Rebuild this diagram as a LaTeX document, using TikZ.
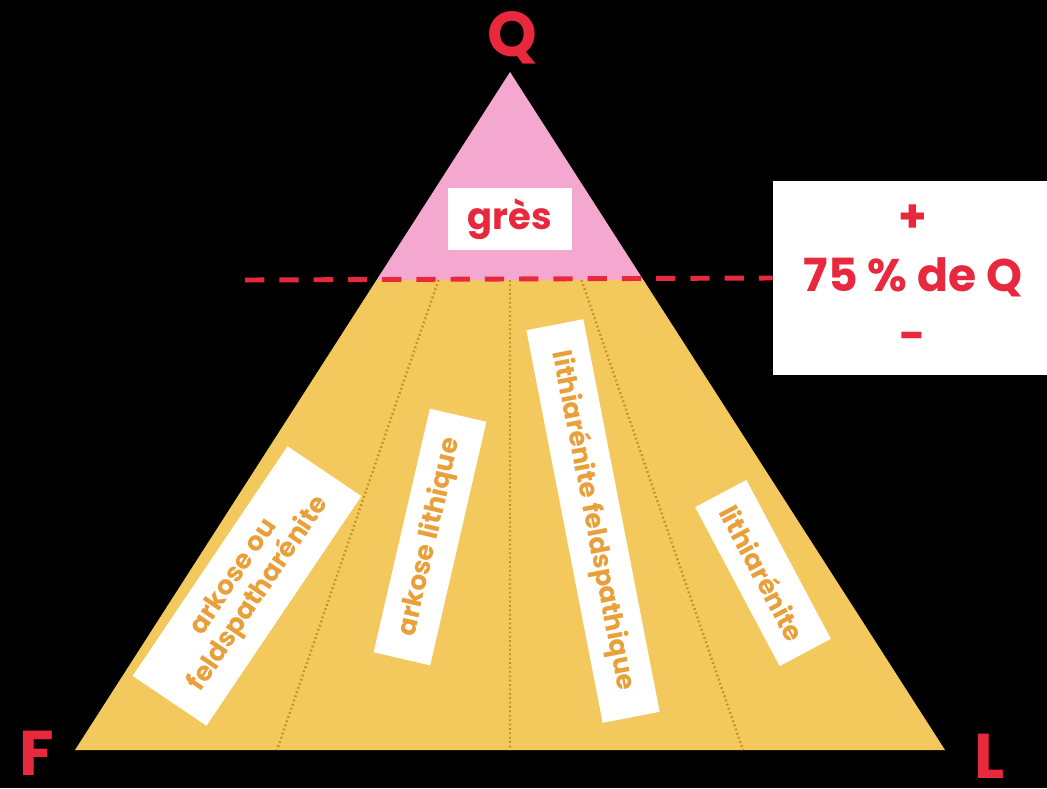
\documentclass[tikz,border=0pt]{standalone}
\usepackage{fontspec}
\setmainfont{Poppins}
\usetikzlibrary{calc}
\definecolor{quartzpink}{HTML}{F4A7CF}
\definecolor{sandyellow}{HTML}{F3C95E}
\definecolor{labelred}{HTML}{E8283C}
\definecolor{rockorange}{HTML}{E9A03A}
\definecolor{dotcolor}{HTML}{C99318}
\tikzset{
    x=0.02cm, y=-0.02cm, % work in pixels of the 1047x788 frame
    vertex/.style={ % corner letters Q, F, L
        text=labelred, inner sep=0pt,
        font=\fontsize{36}{36}\selectfont\bfseries
    },
    rockbox/.style={ % white tags with the rock names
        fill=white, text=rockorange, inner sep=2pt,
        align=center, minimum height=1.16cm,
        font=\fontsize{15}{17}\selectfont\bfseries
    },
    divider/.style={dotcolor, line width=1.4pt, dash pattern=on 1pt off 1.5pt},
    limit/.style={labelred, line width=2.8pt, dash pattern=on 11pt off 8.5pt},
}

\begin{document}
\begin{tikzpicture}
    \fill[black] (0,0) rectangle (1047,788);
    \useasboundingbox (0,0) rectangle (1047,788);

    \coordinate (q) at (510,72);
    \coordinate (f) at (75,750);
    \coordinate (l) at (945,750);
    % 75 % line cuts the sides here
    \coordinate (qf) at ($(q)!0.3068!(f)$);
    \coordinate (ql) at ($(q)!0.3068!(l)$);
    \coordinate (b1) at (277,750);
    \coordinate (b2) at (510,750);
    \coordinate (b3) at (743,750);

    \fill[quartzpink] (q) -- (ql) -- (qf) -- cycle;
    \fill[sandyellow] (qf) -- (ql) -- (l) -- (f) -- cycle;

    \foreach \b in {b1,b2,b3}
        \draw[divider] ($(q)!0.3068!(\b)$) -- (\b);

    \node[vertex] (Qlab) at (512,38)  {Q};
    \node[vertex] (Flab) at (37,753)  {F};
    \node[vertex] (Llab) at (990,756) {L};

    \node[fill=white, text=labelred, minimum width=2.48cm, minimum height=1.24cm,
          font=\fontsize{21}{21}\selectfont\bfseries] (gres) at (510,219) {grès};

    \node[fill=white, text=labelred, align=center, minimum width=5.6cm, minimum height=3.88cm,
          font=\fontsize{26}{34}\selectfont\bfseries] (seuil) at (913,278)
          {+\\75 \% de Q\\-};

    \coordinate (dstart) at (245,280);
    \draw[limit] (dstart) -- (seuil.west);

    \node[rockbox, rotate=56, minimum width=5.54cm, minimum height=1.78cm] (arkose) at (247,586)
          {arkose ou\\feldspatharénite};
    \node[rockbox, rotate=77, minimum width=5cm]   (arklith) at (430,537) {arkose lithique};
    \node[rockbox, rotate=-79, minimum width=8cm]  (litfeld) at (593,521) {lithiarénite feldspathique};
    \node[rockbox, rotate=-62, minimum width=3.6cm] (lith)   at (763,573) {lithiarénite};
\end{tikzpicture}
\end{document}
